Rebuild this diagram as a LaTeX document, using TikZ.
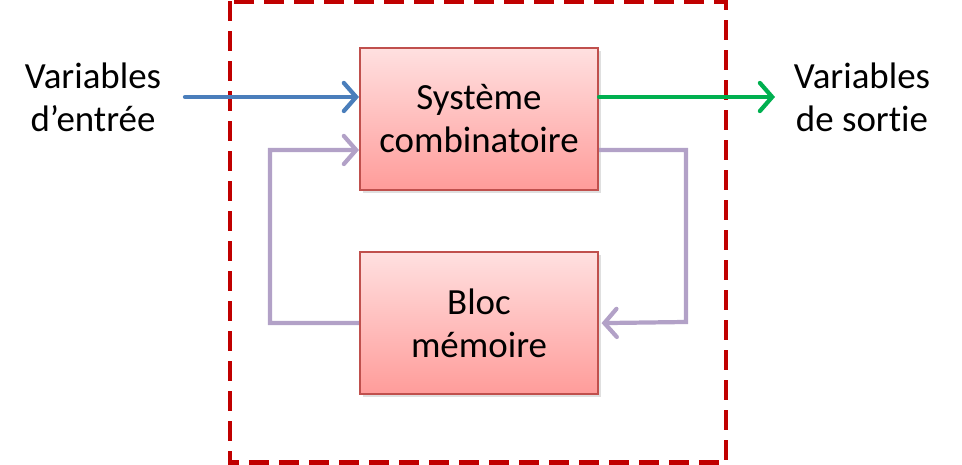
\documentclass[tikz,border=0pt]{standalone}
\usepackage{fontspec}
\setmainfont{Carlito}[Ligatures=NoCommon]
\usepackage{xcolor}
\definecolor{boxborder}{HTML}{C0504D}
\definecolor{boxtop}{HTML}{FFE0E0}
\definecolor{boxbottom}{HTML}{FF9C9A}
\definecolor{incolor}{HTML}{4A7EBB}
\definecolor{outcolor}{HTML}{00B050}
\definecolor{loopcolor}{HTML}{B2A1C7}
\definecolor{framecolor}{HTML}{C00000}
\usetikzlibrary{positioning, calc, arrows.meta, shadows}

\begin{document}
\begin{tikzpicture}[
  bloc/.style={draw=boxborder, line width=1.2pt, minimum width=4.76cm, minimum height=2.84cm,
    top color=boxtop, bottom color=boxbottom, align=center,
    font=\fontsize{21}{24.5}\selectfont,
    drop shadow={opacity=0.25, shadow xshift=1.5pt, shadow yshift=-1.5pt}},
  varlabel/.style={align=center, font=\fontsize{21}{24.5}\selectfont},
  fleche/.style={line width=2.4pt, line cap=round,
    -{Straight Barb[length=7pt, width=16pt, line cap=round]}},
]

\useasboundingbox (0,0) rectangle (19.24,9.3);

% cadre pointillé
\draw[framecolor, line width=2.4pt, dash pattern=on 0.4cm off 0.2cm]
  (4.6,9.27) rectangle (14.52,0.05);

% blocs
\node[bloc] (comb) at (9.58,6.92) {Système\\combinatoire};
\node[bloc, below=1.2cm of comb] (mem) {Bloc\\mémoire};

% variables
\node[varlabel] (entree) at (1.86,7.36) {Variables\\d’entrée};
\node[varlabel] (sortie) at (17.24,7.36) {Variables\\de sortie};

\coordinate (inStart) at (3.7,7.36);
\coordinate (outEnd) at (15.5,7.36);

% entrée / sortie
\draw[fleche, incolor] (inStart) -- (comb.west |- inStart);
\draw[fleche, outcolor] (comb.east |- inStart) -- (outEnd);

% boucle de rétroaction
\draw[fleche, loopcolor, line cap=butt]
  ($(comb.east)+(0,-0.62)$) -| (13.72,2.86) -- ($(mem.east)+(0.05,0)$);
\draw[fleche, loopcolor, line cap=butt]
  (mem.west) -| (5.4,6.3) -- ($(comb.west)+(0,-0.62)$);

\end{tikzpicture}
\end{document}
